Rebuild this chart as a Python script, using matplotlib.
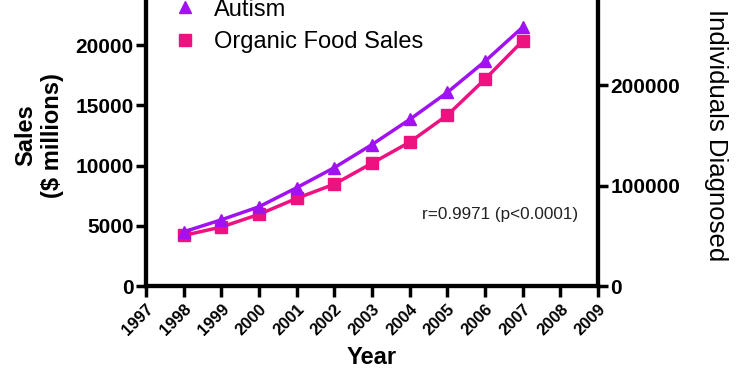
import matplotlib
matplotlib.use("Agg")
import matplotlib.pyplot as plt

plt.rcParams["font.family"] = ["Liberation Sans", "DejaVu Sans"]

# data
years = [1998, 1999, 2000, 2001, 2002, 2003, 2004, 2005, 2006, 2007]
organic_sales = [4200, 4900, 5950, 7280, 8460, 10200, 11950, 14190, 17180, 20360]
autism = [54000, 66000, 79000, 98000, 118000, 141000, 166000, 193000, 224000, 258000]
xticks = list(range(1997, 2010))
left_ticks = [0, 5000, 10000, 15000, 20000]
right_ticks = [0, 100000, 200000]

C_AUT = "#A012F2"
C_ORG = "#EE1280"

fig = plt.figure(figsize=(7.5, 3.75), dpi=100)
fig.patch.set_facecolor("white")
ax = fig.add_axes([0.1947, 0.2373, 0.6027, 0.8027])
ax2 = ax.twinx()

ax.plot(years, organic_sales, color=C_ORG, lw=2.5, marker="s", ms=8,
        label="Organic Food Sales", zorder=3)
ax2.plot(years, autism, color=C_AUT, lw=2.5, marker="^", ms=8,
         label="Autism", zorder=3)

ax.set_xlim(1997, 2009)
ax.set_ylim(0, 25000)
ax2.set_ylim(0, 300000)

ax.set_xticks(xticks)
ax.set_xticklabels([str(y) for y in xticks], rotation=45, ha="right",
                   rotation_mode="anchor", fontsize=12, fontweight="bold")
ax.set_yticks(left_ticks)
ax.set_yticklabels([str(v) for v in left_ticks], fontsize=15, fontweight="bold")
ax2.set_yticks(right_ticks)
ax2.set_yticklabels([str(v) for v in right_ticks], fontsize=15, fontweight="bold")

for a in (ax, ax2):
    a.spines["top"].set_visible(False)
    for s in ("left", "right", "bottom"):
        a.spines[s].set_linewidth(3)
    a.tick_params(width=2.5, length=7, direction="out", pad=2)
ax.tick_params(axis="x", length=8, pad=3)

ax.set_xlabel("Year", fontsize=17, fontweight="bold", labelpad=6)
ax.set_ylabel("Sales\n($ millions)", fontsize=17, fontweight="bold",
              labelpad=8, linespacing=1.2)
ax2.set_ylabel("Individuals Diagnosed", fontsize=18.5, rotation=-90,
               va="center")
ax2.yaxis.set_label_coords(1.26, 0.5)

ax.text(2008.47, 5900, "r=0.9971 (p<0.0001)", fontsize=12.3, ha="right",
        va="center", color="#222222")

# legend
h1, l1 = ax2.get_legend_handles_labels()
h2, l2 = ax.get_legend_handles_labels()
leg = ax2.legend(h1 + h2, l1 + l2, loc="upper left",
                 bbox_to_anchor=(0.04, 1.025), frameon=False, fontsize=17,
                 handlelength=0, handletextpad=1.2, markerscale=1.0,
                 labelspacing=0.45)
for line in leg.get_lines():
    line.set_linestyle("")

plt.savefig("out.png", dpi=100, facecolor="white")
